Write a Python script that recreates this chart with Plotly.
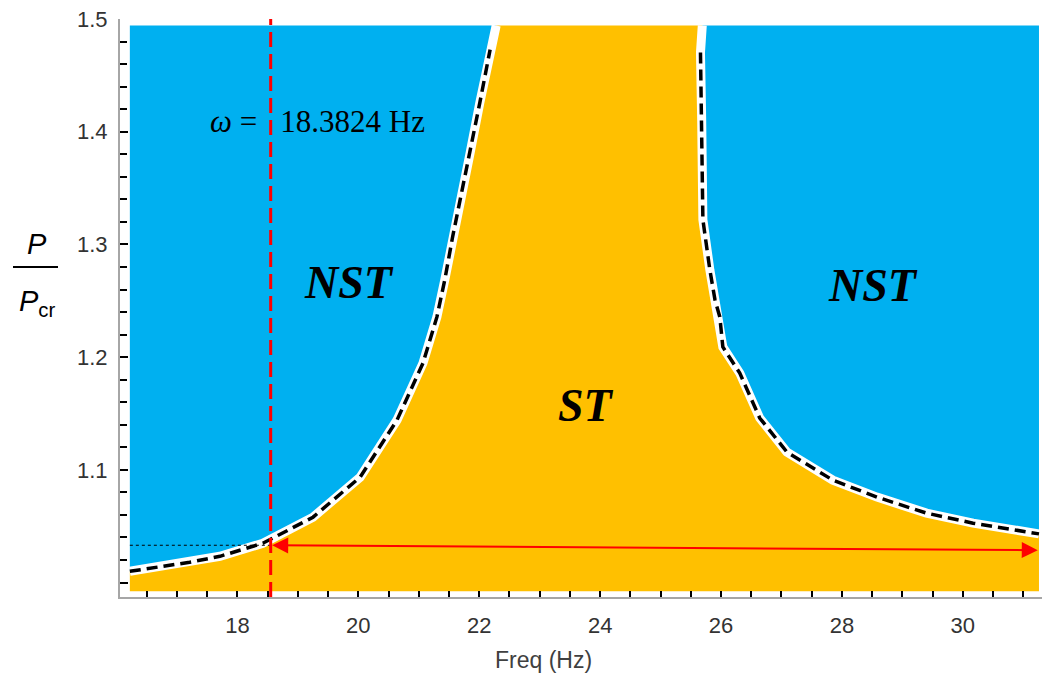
import plotly.graph_objects as go

# ---- data ----
left_x = [16.22, 17.21, 17.71, 18.42, 19.25, 20.03, 20.64, 21.07, 21.30, 21.43, 21.56, 21.85, 22.01, 22.18]
left_y = [1.0100, 1.0180, 1.0233, 1.0349, 1.0580, 1.0935, 1.1442, 1.1948, 1.2357, 1.2686, 1.3068, 1.3814, 1.4258, 1.4729]
right_x = [25.66, 25.68, 25.69, 25.70, 25.815, 25.90, 25.98, 26.03, 26.31, 26.64, 27.09, 27.85, 28.58, 29.40, 30.17, 31.26]
right_y = [1.4702, 1.4107, 1.3512, 1.3219, 1.2775, 1.2508, 1.2357, 1.2090, 1.1859, 1.1460, 1.1158, 1.0909, 1.0758, 1.0616, 1.0527, 1.0432]
left_top_x = 22.28
right_top_x = 25.69
region_top = 1.4942
region_bottom = 0.9923
region_left = 16.22
region_right = 31.26

omega = 18.55          # drawn position of the red dashed line
omega_label = "18.3824"
arrow_left = (18.55, 1.0331)
arrow_right = (31.24, 1.0287)

x_ticks = [18, 20, 22, 24, 26, 28, 30]
y_ticks = [1.0, 1.1, 1.2, 1.3, 1.4, 1.5]
y_ticktext = ["", "1.1", "1.2", "1.3", "1.4", "1.5"]

BLUE = "#00B0F0"
GOLD = "#FFC000"

fig = go.Figure()

# blue left region
bl_x = [region_left, left_top_x] + left_x[::-1] + [region_left]
bl_y = [region_top, region_top] + left_y[::-1] + [left_y[0]]
fig.add_trace(go.Scatter(x=bl_x, y=bl_y, fill="toself", fillcolor=BLUE, mode="lines",
                         line=dict(width=0, color=BLUE), hoverinfo="skip", showlegend=False))
# blue right region
br_x = [right_top_x, region_right, region_right] + right_x[::-1]
br_y = [region_top, region_top, right_y[-1]] + right_y[::-1]
fig.add_trace(go.Scatter(x=br_x, y=br_y, fill="toself", fillcolor=BLUE, mode="lines",
                         line=dict(width=0, color=BLUE), hoverinfo="skip", showlegend=False))
# gold region
g_x = [region_left] + left_x + [left_top_x, right_top_x] + right_x + [region_right, region_left]
g_y = [region_bottom] + left_y + [region_top, region_top] + right_y + [region_bottom, region_bottom]
fig.add_trace(go.Scatter(x=g_x, y=g_y, fill="toself", fillcolor=GOLD, mode="lines",
                         line=dict(width=0, color=GOLD), hoverinfo="skip", showlegend=False))

# white separators
for xs, ys in [(left_x + [left_top_x], left_y + [region_top]),
               ([right_top_x] + right_x, [region_top] + right_y)]:
    fig.add_trace(go.Scatter(x=xs, y=ys, mode="lines", line=dict(color="white", width=9),
                             hoverinfo="skip", showlegend=False))
# black dashed boundaries
for xs, ys in [(left_x, left_y), (right_x, right_y)]:
    fig.add_trace(go.Scatter(x=xs, y=ys, mode="lines",
                             line=dict(color="black", width=3.5, dash="11px,6px"),
                             hoverinfo="skip", showlegend=False))

# thin dotted horizontal guide
fig.add_trace(go.Scatter(x=[region_left, arrow_left[0]], y=[arrow_left[1], arrow_left[1]], mode="lines",
                         line=dict(color="black", width=1, dash="dot"), hoverinfo="skip", showlegend=False))

# red dashed vertical line
fig.add_trace(go.Scatter(x=[omega, omega], y=[0.9872, 1.5], mode="lines",
                         line=dict(color="#FF0000", width=3, dash="15px,7px"), hoverinfo="skip", showlegend=False))

ann = []
# double arrow
ann.append(dict(x=arrow_right[0], y=arrow_right[1], ax=arrow_left[0], ay=arrow_left[1],
                xref="x", yref="y", axref="x", ayref="y", text="", showarrow=True,
                arrowhead=2, startarrowhead=2, arrowside="end+start", arrowcolor="#FF0000",
                arrowwidth=2, arrowsize=1.6, startarrowsize=1.6, standoff=0, startstandoff=0))
# labels
ann.append(dict(x=17.51, y=1.409, xref="x", yref="y", xanchor="left", yanchor="middle", showarrow=False,
                text="<i>ω</i> =   " + omega_label + " Hz",
                font=dict(family="Liberation Serif", size=31, color="black")))
ann.append(dict(x=19.84, y=1.266, xref="x", yref="y", showarrow=False, text="<b><i>NST</i></b>",
                font=dict(family="Liberation Serif", size=46, color="black")))
ann.append(dict(x=28.51, y=1.264, xref="x", yref="y", showarrow=False, text="<b><i>NST</i></b>",
                font=dict(family="Liberation Serif", size=46, color="black")))
ann.append(dict(x=23.77, y=1.157, xref="x", yref="y", showarrow=False, text="<b><i>ST</i></b>",
                font=dict(family="Liberation Serif", size=46, color="black")))
# axis titles
ann.append(dict(x=(543 - 120) / 922, y=(597 - 660) / 578, xref="paper", yref="paper", showarrow=False,
                text="Freq (Hz)", xanchor="center", yanchor="middle",
                font=dict(family="Liberation Sans", size=23, color="#404040")))
ann.append(dict(x=(37 - 120) / 922, y=(597 - 244) / 578, xref="paper", yref="paper", showarrow=False,
                text="<i>P</i>", xanchor="center", yanchor="middle",
                font=dict(family="Liberation Sans", size=29, color="black")))
ann.append(dict(x=(37 - 120) / 922, y=(597 - 303) / 578, xref="paper", yref="paper", showarrow=False,
                text="<i>P</i><sub>cr</sub>", xanchor="center", yanchor="middle",
                font=dict(family="Liberation Sans", size=29, color="black")))

shapes = [dict(type="line", xref="paper", yref="paper",
               x0=(13 - 120) / 922, x1=(58 - 120) / 922, y0=(597 - 267) / 578, y1=(597 - 267) / 578,
               line=dict(color="black", width=2))]

fig.update_layout(
    width=1042, height=683,
    margin=dict(l=120, r=0, t=19, b=86),
    plot_bgcolor="white", paper_bgcolor="white",
    annotations=ann, shapes=shapes,
    xaxis=dict(range=[16.057, 31.31], tickmode="array", tickvals=x_ticks,
               ticks="inside", ticklen=6, tickwidth=2, tickcolor="black",
               minor=dict(dtick=0.5, tick0=0, ticks="inside", ticklen=6, tickwidth=2, tickcolor="black"),
               showline=True, linecolor="#A6A6A6", linewidth=2, showgrid=False, zeroline=False,
               tickfont=dict(family="Liberation Sans", size=22, color="#333333"), ticklabelstandoff=8),
    yaxis=dict(range=[0.9872, 1.5], tickmode="array", tickvals=y_ticks, ticktext=y_ticktext,
               ticks="inside", ticklen=8, tickwidth=2, tickcolor="black",
               minor=dict(dtick=0.02, tick0=0, ticks="inside", ticklen=7, tickwidth=2, tickcolor="black"),
               showline=True, linecolor="#A6A6A6", linewidth=2, showgrid=False, zeroline=False,
               tickfont=dict(family="Liberation Sans", size=22, color="#333333"), ticklabelstandoff=6),
)

fig.write_html("out.html")
